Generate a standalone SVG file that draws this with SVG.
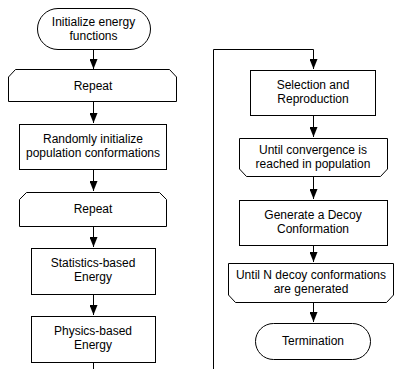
<svg xmlns="http://www.w3.org/2000/svg" width="396" height="369" viewBox="0 0 396 369">
<defs>
<marker id="ah" viewBox="0 0 10 8" refX="10" refY="4" markerWidth="10" markerHeight="8" markerUnits="userSpaceOnUse" orient="auto">
<path d="M0,0 L10,4 L0,8 z" fill="#000"/>
</marker>
<style>
.s{fill:#fff;stroke:#000;stroke-width:1}
.t{font-family:"Liberation Sans",Arial,sans-serif;font-size:12px;fill:#000;text-anchor:middle}
.c{fill:none;stroke:#000;stroke-width:1}
</style>
</defs>
<rect width="396" height="369" fill="#fff"/>
<g id="connectors">
<path class="c" d="M93.5,50 V69" marker-end="url(#ah)"/>
<path class="c" d="M93.5,101 V123" marker-end="url(#ah)"/>
<path class="c" d="M93.5,169 V191" marker-end="url(#ah)"/>
<path class="c" d="M93.5,226 V247" marker-end="url(#ah)"/>
<path class="c" d="M93.5,294 V315" marker-end="url(#ah)"/>
<path class="c" d="M93.5,362 V369"/>
<path class="c" d="M213.5,369 V49.5 H313.5 V69" marker-end="url(#ah)"/>
<path class="c" d="M313.5,115 V137" marker-end="url(#ah)"/>
<path class="c" d="M313.5,176 V199" marker-end="url(#ah)"/>
<path class="c" d="M313.5,245 V262" marker-end="url(#ah)"/>
<path class="c" d="M313.5,302 V322" marker-end="url(#ah)"/>
</g>
<g id="n1">
<rect class="s" x="37.5" y="8.5" width="113" height="41" rx="20.5"/>
<text class="t" x="93.5" y="25.5">Initialize energy</text>
<text class="t" x="93.5" y="39.5">functions</text>
</g>
<g id="n2">
<polygon class="s" points="15.5,69.5 169.5,69.5 176.5,77 176.5,101.5 8.5,101.5 8.5,77"/>
<text class="t" x="93" y="90">Repeat</text>
</g>
<g id="n3">
<rect class="s" x="19.5" y="124.5" width="147" height="45"/>
<text class="t" x="93" y="143">Randomly initialize</text>
<text class="t" x="93" y="157">population conformations</text>
</g>
<g id="n4">
<polygon class="s" points="26.5,192.5 159.5,192.5 166.5,199.5 166.5,226.5 19.5,226.5 19.5,199.5"/>
<text class="t" x="93" y="213">Repeat</text>
</g>
<g id="n5">
<rect class="s" x="31.5" y="248.5" width="124" height="46"/>
<text class="t" x="93" y="267">Statistics-based</text>
<text class="t" x="93" y="281">Energy</text>
</g>
<g id="n6">
<rect class="s" x="31.5" y="316.5" width="124" height="46"/>
<text class="t" x="93" y="335">Physics-based</text>
<text class="t" x="93" y="349">Energy</text>
</g>
<g id="n7">
<rect class="s" x="250.5" y="70.5" width="125" height="45"/>
<text class="t" x="313" y="89">Selection and</text>
<text class="t" x="313" y="103">Reproduction</text>
</g>
<g id="n8">
<polygon class="s" points="239.5,138.5 387.5,138.5 387.5,169 380.5,176.5 246.5,176.5 239.5,169"/>
<text class="t" x="313" y="154">Until convergence is</text>
<text class="t" x="313" y="168">reached in population</text>
</g>
<g id="n9">
<rect class="s" x="239.5" y="200.5" width="148" height="45"/>
<text class="t" x="313" y="219">Generate a Decoy</text>
<text class="t" x="313" y="233">Conformation</text>
</g>
<g id="n10">
<polygon class="s" points="228.5,263.5 393.5,263.5 393.5,295 386.5,302.5 235.5,302.5 228.5,295"/>
<text class="t" x="311" y="279">Until N decoy conformations</text>
<text class="t" x="311" y="293">are generated</text>
</g>
<g id="n11">
<rect class="s" x="255.5" y="323.5" width="115" height="36" rx="18"/>
<text class="t" x="313" y="345">Termination</text>
</g>
</svg>
